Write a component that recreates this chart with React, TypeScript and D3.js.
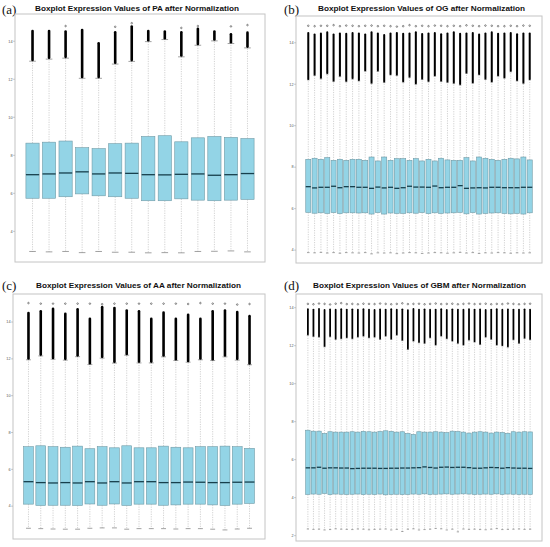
import React from 'react';
import * as d3 from 'd3';

// ---- Panel (a): PA, 14 samples
const aLo = [2.94, 2.92, 2.94, 2.88, 2.94, 2.9, 2.9, 2.87, 2.88, 2.87, 2.94, 2.95, 2.97, 2.92];
const aQ1 = [5.74, 5.74, 5.82, 5.97, 5.87, 5.82, 5.74, 5.61, 5.61, 5.71, 5.64, 5.61, 5.64, 5.68];
const aMed = [6.98, 7.02, 7.07, 7.13, 7.02, 7.07, 7.05, 6.98, 6.97, 7.0, 7.02, 6.95, 6.98, 7.04];
const aQ3 = [8.64, 8.69, 8.75, 8.4, 8.35, 8.61, 8.64, 8.99, 9.03, 8.71, 8.92, 8.99, 8.94, 8.88];
const aHi = [12.95, 13.06, 13.11, 12.05, 12.05, 12.8, 12.94, 13.98, 14.09, 13.18, 13.79, 14.02, 13.88, 13.65];
const aOut = [14.61, 14.61, 14.58, 14.66, 13.96, 14.54, 14.84, 14.61, 14.58, 14.54, 14.72, 14.58, 14.43, 14.52];
const aTop: (number | null)[] = [null, null, 14.8, null, null, 14.76, 14.95, null, null, 14.7, 14.8, null, 14.78, 14.85];

// ---- Panel (b): OG, 36 samples
const bLo = [3.88, 3.87, 3.89, 3.86, 3.88, 3.85, 3.88, 3.87, 3.86, 3.88, 3.82, 3.87, 3.86, 3.87, 3.83, 3.86, 3.88, 3.87,
  3.84, 3.86, 3.88, 3.87, 3.85, 3.87, 3.89, 3.86, 3.88, 3.84, 3.87, 3.86, 3.88, 3.87, 3.85, 3.87, 3.86, 3.87];
const bQ1 = [5.82, 5.78, 5.8, 5.77, 5.81, 5.76, 5.8, 5.8, 5.79, 5.8, 5.74, 5.81, 5.74, 5.79, 5.77, 5.77, 5.8, 5.78,
  5.81, 5.76, 5.8, 5.77, 5.79, 5.8, 5.82, 5.75, 5.81, 5.74, 5.77, 5.79, 5.8, 5.77, 5.75, 5.77, 5.74, 5.8];
const bMed = [7.06, 7.0, 7.03, 7.03, 7.08, 7.01, 7.06, 7.06, 7.03, 7.03, 6.98, 7.04, 7.0, 7.03, 6.98, 7.01, 7.08, 7.04,
  7.04, 7.03, 7.09, 7.01, 7.03, 7.03, 7.11, 6.98, 7.0, 7.01, 7.0, 7.03, 7.03, 7.01, 7.01, 7.01, 7.03, 7.03];
const bQ3 = [8.38, 8.43, 8.38, 8.46, 8.33, 8.38, 8.33, 8.38, 8.38, 8.33, 8.49, 8.3, 8.49, 8.33, 8.41, 8.41, 8.33, 8.41,
  8.3, 8.38, 8.3, 8.43, 8.35, 8.33, 8.33, 8.46, 8.3, 8.49, 8.43, 8.38, 8.33, 8.38, 8.43, 8.4, 8.49, 8.35];
const bHi = [12.21, 12.42, 12.26, 12.49, 12.13, 12.37, 12.12, 12.25, 12.16, 12.63, 12.03, 12.62, 12.08, 12.45, 12.42, 12.1, 12.32, 12.0,
  12.23, 12.12, 12.39, 12.13, 12.08, 12.03, 11.96, 12.52, 12.05, 12.45, 12.23, 12.1, 12.39, 12.29, 12.6, 12.16, 12.03, 12.21];
const bOut = [14.52, 14.45, 14.5, 14.55, 14.45, 14.5, 14.48, 14.52, 14.5, 14.45, 14.55, 14.5, 14.42, 14.5, 14.52, 14.48, 14.5, 14.55,
  14.47, 14.5, 14.52, 14.46, 14.5, 14.55, 14.48, 14.5, 14.52, 14.45, 14.5, 14.55, 14.48, 14.5, 14.52, 14.46, 14.5, 14.5];
const bTop = [14.82, 14.8, 14.82, 14.82, 14.85, 14.8, 14.83, 14.82, 14.8, 14.82, 14.83, 14.8, 14.82, 14.8, 14.78, 14.8, 14.85, 14.8,
  14.82, 14.8, 14.83, 14.82, 14.8, 14.82, 14.8, 14.84, 14.82, 14.8, 14.83, 14.82, 14.8, 14.8, 14.82, 14.8, 14.83, 14.82];

// ---- Panel (c): AA, 19 samples
const cLo = [2.8, 2.78, 2.76, 2.75, 2.75, 2.8, 2.82, 2.82, 2.75, 2.78, 2.78, 2.78, 2.76, 2.78, 2.78, 2.75, 2.71, 2.76, 2.8];
const cQ1 = [4.11, 4.04, 4.05, 4.05, 4.04, 4.12, 4.05, 4.12, 4.04, 4.11, 4.11, 4.05, 4.07, 4.11, 4.11, 4.07, 4.04, 4.11, 4.15];
const cMed = [5.33, 5.28, 5.26, 5.28, 5.26, 5.33, 5.26, 5.33, 5.26, 5.33, 5.33, 5.28, 5.28, 5.31, 5.3, 5.28, 5.28, 5.3, 5.31];
const cQ3 = [7.23, 7.28, 7.23, 7.2, 7.26, 7.12, 7.23, 7.17, 7.28, 7.17, 7.17, 7.26, 7.2, 7.17, 7.23, 7.23, 7.26, 7.23, 7.14];
const cHi = [11.95, 12.16, 11.98, 11.93, 12.12, 11.69, 12.04, 11.77, 12.2, 11.78, 11.78, 12.11, 11.91, 11.82, 11.95, 11.91, 12.11, 11.93, 11.68];
const cOut = [14.56, 14.66, 14.79, 14.52, 14.76, 14.25, 14.88, 14.83, 14.7, 14.65, 14.25, 14.58, 14.25, 14.47, 14.25, 14.66, 14.7, 14.61, 14.39];
const cTop = [15.03, 15.0, 15.0, 15.0, 15.0, 15.0, 14.97, 15.0, 15.0, 15.0, 15.0, 15.0, 15.0, 14.98, 15.03, 15.0, 15.0, 14.95, 14.98];

// ---- Panel (d): GBM, 41 samples
const dLo = [2.35, 2.33, 2.34, 2.3, 2.32, 2.36, 2.34, 2.33, 2.32, 2.35,
  2.34, 2.31, 2.33, 2.34, 2.35, 2.3, 2.33, 2.22, 2.34, 2.36,
  2.3, 2.32, 2.34, 2.38, 2.36, 2.3, 2.34, 2.2, 2.35, 2.33,
  2.34, 2.32, 2.31, 2.34, 2.37, 2.32, 2.33, 2.34, 2.35, 2.33, 2.34];
const dQ1 = [4.17, 4.19, 4.18, 4.22, 4.16, 4.19, 4.18, 4.17, 4.18, 4.19,
  4.16, 4.18, 4.17, 4.19, 4.15, 4.17, 4.18, 4.16, 4.17, 4.19,
  4.18, 4.2, 4.17, 4.18, 4.19, 4.2, 4.18, 4.19, 4.2, 4.19,
  4.17, 4.18, 4.19, 4.18, 4.2, 4.17, 4.19, 4.18, 4.17, 4.18, 4.17];
const dMed = [5.57, 5.57, 5.6, 5.55, 5.57, 5.57, 5.56, 5.56, 5.53, 5.54,
  5.55, 5.55, 5.55, 5.54, 5.54, 5.55, 5.55, 5.56, 5.56, 5.57,
  5.58, 5.62, 5.59, 5.56, 5.6, 5.61, 5.59, 5.6, 5.6, 5.58,
  5.55, 5.55, 5.57, 5.59, 5.58, 5.55, 5.58, 5.56, 5.55, 5.55, 5.54];
const dQ3 = [7.55, 7.5, 7.5, 7.38, 7.47, 7.45, 7.45, 7.45, 7.47, 7.45,
  7.49, 7.47, 7.45, 7.48, 7.52, 7.49, 7.45, 7.47, 7.38, 7.33,
  7.47, 7.45, 7.45, 7.47, 7.45, 7.42, 7.5, 7.48, 7.45, 7.4,
  7.45, 7.47, 7.45, 7.4, 7.45, 7.43, 7.39, 7.47, 7.45, 7.47, 7.46];
const dHi = [12.55, 12.48, 12.45, 11.94, 12.47, 12.33, 12.36, 12.41, 12.36, 12.45,
  12.5, 12.41, 12.45, 12.33, 12.5, 12.33, 12.55, 12.27, 11.8, 12.24,
  12.15, 12.12, 12.41, 12.03, 12.5, 12.36, 12.24, 12.12, 12.03, 12.29,
  12.19, 12.06, 12.45, 12.33, 12.03, 11.99, 11.92, 12.31, 12.12, 12.38, 12.31];
const dOut = [13.97, 13.95, 13.98, 13.93, 13.96, 13.94, 13.97, 13.95, 13.96, 13.94,
  13.97, 13.95, 13.93, 13.96, 13.95, 13.97, 13.94, 13.96, 13.92, 13.98,
  13.95, 13.96, 13.94, 13.95, 13.97, 13.93, 13.96, 13.95, 13.94, 13.97,
  13.95, 13.96, 13.93, 13.95, 13.97, 13.94, 13.96, 13.95, 13.94, 13.96, 13.95];
const dTop = [14.2, 14.18, 14.22, 14.2, 14.17, 14.21, 14.24, 14.19, 14.2, 14.18,
  14.21, 14.2, 14.19, 14.22, 14.2, 14.18, 14.2, 14.23, 14.19, 14.2,
  14.21, 14.18, 14.2, 14.22, 14.19, 14.2, 14.21, 14.18, 14.2, 14.22,
  14.19, 14.2, 14.21, 14.18, 14.2, 14.19, 14.22, 14.2, 14.18, 14.2, 14.21];

const yTicksA = [4, 6, 8, 10, 12, 14];
const yTicksD = [2, 4, 6, 8, 10, 12, 14];

interface PanelSpec {
  label: string;
  title: string;
  frame: [number, number, number, number]; // x0, y0, x1, y1
  titleSpan: [number, number, number]; // x0, x1, baseline
  labelPos: [number, number];
  ticks: number[];
  lo: number[];
  q1: number[];
  med: number[];
  q3: number[];
  hi: number[];
  out: number[];
  top: (number | null)[];
}

const panels: PanelSpec[] = [
  { label: '(a)', title: 'Boxplot Expression Values of PA after Normalization', frame: [15, 14, 265, 262],
    titleSpan: [35, 239, 10.5], labelPos: [2, 14], ticks: yTicksA,
    lo: aLo, q1: aQ1, med: aMed, q3: aQ3, hi: aHi, out: aOut, top: aTop },
  { label: '(b)', title: 'Boxplot Expression Values of OG after Normalization', frame: [296, 16, 542, 263],
    titleSpan: [318, 525, 10.5], labelPos: [284, 14], ticks: yTicksA,
    lo: bLo, q1: bQ1, med: bMed, q3: bQ3, hi: bHi, out: bOut, top: bTop },
  { label: '(c)', title: 'Boxplot Expression Values of AA after Normalization', frame: [13, 294, 265, 539],
    titleSpan: [36, 241, 288], labelPos: [2, 290], ticks: yTicksA,
    lo: cLo, q1: cQ1, med: cMed, q3: cQ3, hi: cHi, out: cOut, top: cTop },
  { label: '(d)', title: 'Boxplot Expression Values of GBM after Normalization', frame: [296, 294, 542, 541],
    titleSpan: [313, 526, 288], labelPos: [284, 290], ticks: yTicksD,
    lo: dLo, q1: dQ1, med: dMed, q3: dQ3, hi: dHi, out: dOut, top: dTop },
];

const Panel: React.FC<{ p: PanelSpec }> = ({ p }) => {
  const n = p.med.length;
  const [x0, y0, x1, y1] = p.frame;
  // R-style extents: boxes at 1..n, 4% padding
  const x = d3.scaleLinear().domain([0.5 - 0.04 * n, n + 0.5 + 0.04 * n]).range([x0, x1]);
  const tops = p.top.filter((v): v is number => v != null);
  const lowest = d3.min(p.lo)!;
  const highest = d3.max([...p.out, ...tops])!;
  const pad = (highest - lowest) * 0.04;
  const y = d3.scaleLinear().domain([lowest - pad, highest + pad]).range([y1, y0]);
  const half = x(1.4) - x(1);
  const staple = half * 0.5;
  // outlier band (stacked circles) gets a bit wider where boxes are wide
  const band = Math.min(2.6, half * 0.8);

  return (
    <g>
      <text x={p.labelPos[0]} y={p.labelPos[1]} fontFamily="Liberation Serif, serif" fontSize={13} fill="#111">
        {p.label}
      </text>
      <text
        x={(p.titleSpan[0] + p.titleSpan[1]) / 2}
        y={p.titleSpan[2]}
        textAnchor="middle"
        fontFamily="Liberation Sans, Arial, sans-serif"
        fontWeight="bold"
        fontSize={8}
        textLength={p.titleSpan[1] - p.titleSpan[0]}
        lengthAdjust="spacingAndGlyphs"
        fill="#111"
      >
        {p.title}
      </text>
      <rect x={x0} y={y0} width={x1 - x0} height={y1 - y0} fill="#fff" stroke="#c4c4c4" strokeWidth={1} />
      {p.ticks.map((t) => (
        <g key={t}>
          <line x1={x0 - 2} x2={x0} y1={y(t)} y2={y(t)} stroke="#999" strokeWidth={0.5} />
          <text x={x0 - 2.5} y={y(t) + 1.3} textAnchor="end" fontFamily="Liberation Sans, Arial, sans-serif"
            fontSize={3.8} fill="#555">{t}</text>
        </g>
      ))}
      {p.med.map((m, i) => {
        const cx = x(i + 1);
        return (
          <g key={i}>
            <line x1={cx} x2={cx} y1={y(p.q3[i])} y2={y(p.hi[i])} stroke="#b4b4b4" strokeWidth={0.6} strokeDasharray="1.2,1.2" />
            <line x1={cx} x2={cx} y1={y(p.q1[i])} y2={y(p.lo[i])} stroke="#b4b4b4" strokeWidth={0.6} strokeDasharray="1.2,1.2" />
            <line x1={cx - staple} x2={cx + staple} y1={y(p.lo[i])} y2={y(p.lo[i])} stroke="#7a7a7a" strokeWidth={0.7} />
            <line x1={cx - staple} x2={cx + staple} y1={y(p.hi[i])} y2={y(p.hi[i])} stroke="#7a7a7a" strokeWidth={0.7} />
            <rect x={cx - half} y={y(p.q3[i])} width={half * 2} height={y(p.q1[i]) - y(p.q3[i])}
              fill="#93d4e6" stroke="#6f9aa6" strokeWidth={0.6} />
            <line x1={cx - half} x2={cx + half} y1={y(m)} y2={y(m)} stroke="#173f4c" strokeWidth={1.3} />
            <rect x={cx - band / 2} y={y(p.out[i])} width={band} height={y(p.hi[i]) - y(p.out[i])} rx={band / 2} fill="#000" />
            {p.top[i] != null && (
              <circle cx={cx} cy={y(p.top[i] as number)} r={0.8} fill="none" stroke="#222" strokeWidth={0.5} />
            )}
          </g>
        );
      })}
    </g>
  );
};

export default function App() {
  return (
    <svg width={550} height={547} style={{ position: 'absolute', left: 0, top: 0, background: '#fff' }}>
      {panels.map((p) => (
        <Panel key={p.label} p={p} />
      ))}
    </svg>
  );
}
